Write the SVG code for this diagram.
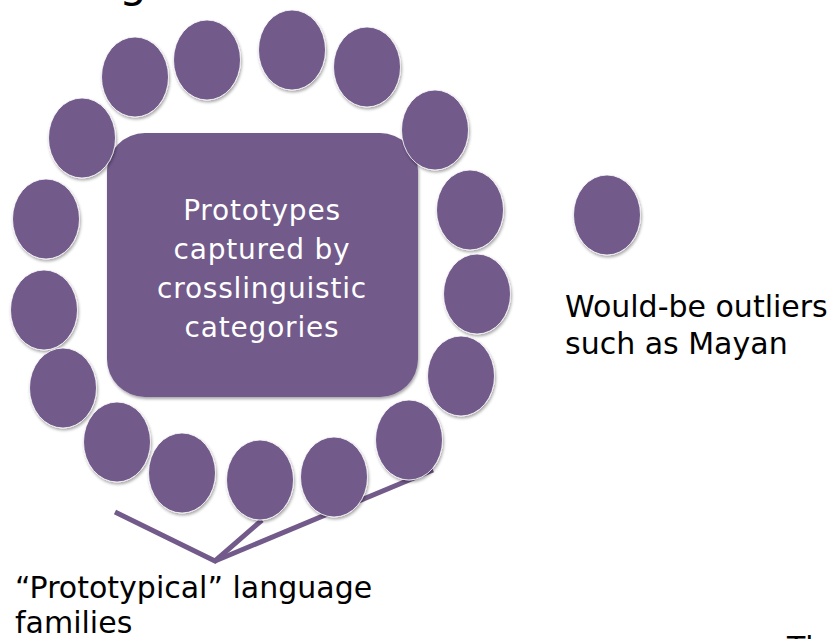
<svg xmlns="http://www.w3.org/2000/svg" width="837" height="639" viewBox="0 0 837 639">
<defs>
<filter id="sh" x="-20%" y="-20%" width="140%" height="140%">
<feDropShadow dx="1" dy="2" stdDeviation="1.5" flood-color="#000" flood-opacity="0.35"/>
</filter>
</defs>
<style>
.n{fill:#725a8a;stroke:#ffffff;stroke-width:0.8;filter:url(#sh)}
.b{fill:#725a8a;filter:url(#sh)}
.c{fill:none;stroke:#725a8a;stroke-width:5;stroke-linecap:butt;stroke-linejoin:miter}
.t{font-family:"DejaVu Sans",sans-serif;font-size:30px;fill:#000}
.w{font-family:"DejaVu Sans",sans-serif;font-size:28px;fill:#fff;letter-spacing:0.8px;text-anchor:middle}
</style>
<rect width="837" height="639" fill="#fff"/>
<text class="t" x="119" y="-3" style="font-size:44px">g</text>
<text class="t" x="787" y="658">Th</text>
<g id="connectors">
<path class="c" d="M115,512 L215,561 L262,520"/>
<path class="c" d="M215,561 L433,470"/>
</g>
<g id="prototypes">
<rect class="b" x="107" y="133" width="311" height="264" rx="38" ry="38"/>
<text class="w" x="262" y="220">Prototypes</text>
<text class="w" x="262" y="259">captured by</text>
<text class="w" x="262" y="298">crosslinguistic</text>
<text class="w" x="262" y="337">categories</text>
</g>
<g id="family1"><ellipse class="n" cx="135" cy="77" rx="33.5" ry="40"/></g>
<g id="family2"><ellipse class="n" cx="207" cy="60" rx="33.5" ry="40"/></g>
<g id="family3"><ellipse class="n" cx="292" cy="50" rx="33.5" ry="40"/></g>
<g id="family4"><ellipse class="n" cx="367" cy="67" rx="33.5" ry="40"/></g>
<g id="family5"><ellipse class="n" cx="435" cy="130" rx="33.5" ry="40"/></g>
<g id="family6"><ellipse class="n" cx="82" cy="138" rx="33.5" ry="40"/></g>
<g id="family7"><ellipse class="n" cx="46" cy="219" rx="33.5" ry="40"/></g>
<g id="family8"><ellipse class="n" cx="44" cy="310" rx="33.5" ry="40"/></g>
<g id="family9"><ellipse class="n" cx="63" cy="388" rx="33.5" ry="40"/></g>
<g id="family10"><ellipse class="n" cx="117" cy="442" rx="33.5" ry="40"/></g>
<g id="family11"><ellipse class="n" cx="182" cy="473" rx="33.5" ry="40"/></g>
<g id="family12"><ellipse class="n" cx="260" cy="480" rx="33.5" ry="40"/></g>
<g id="family13"><ellipse class="n" cx="334" cy="477" rx="33.5" ry="40"/></g>
<g id="family14"><ellipse class="n" cx="409" cy="440" rx="33.5" ry="40"/></g>
<g id="family15"><ellipse class="n" cx="461" cy="376" rx="33.5" ry="40"/></g>
<g id="family16"><ellipse class="n" cx="477" cy="294" rx="33.5" ry="40"/></g>
<g id="family17"><ellipse class="n" cx="470" cy="210" rx="33.5" ry="40"/></g>
<g id="outlier"><ellipse class="n" cx="607" cy="215" rx="33.5" ry="40"/></g>
<g id="outlier-label">
<text class="t" x="565" y="317">Would-be outliers</text>
<text class="t" x="565" y="354">such as Mayan</text>
</g>
<g id="families-label">
<text class="t" x="15" y="598">“Prototypical” language</text>
<text class="t" x="15" y="633">families</text>
</g>
</svg>
